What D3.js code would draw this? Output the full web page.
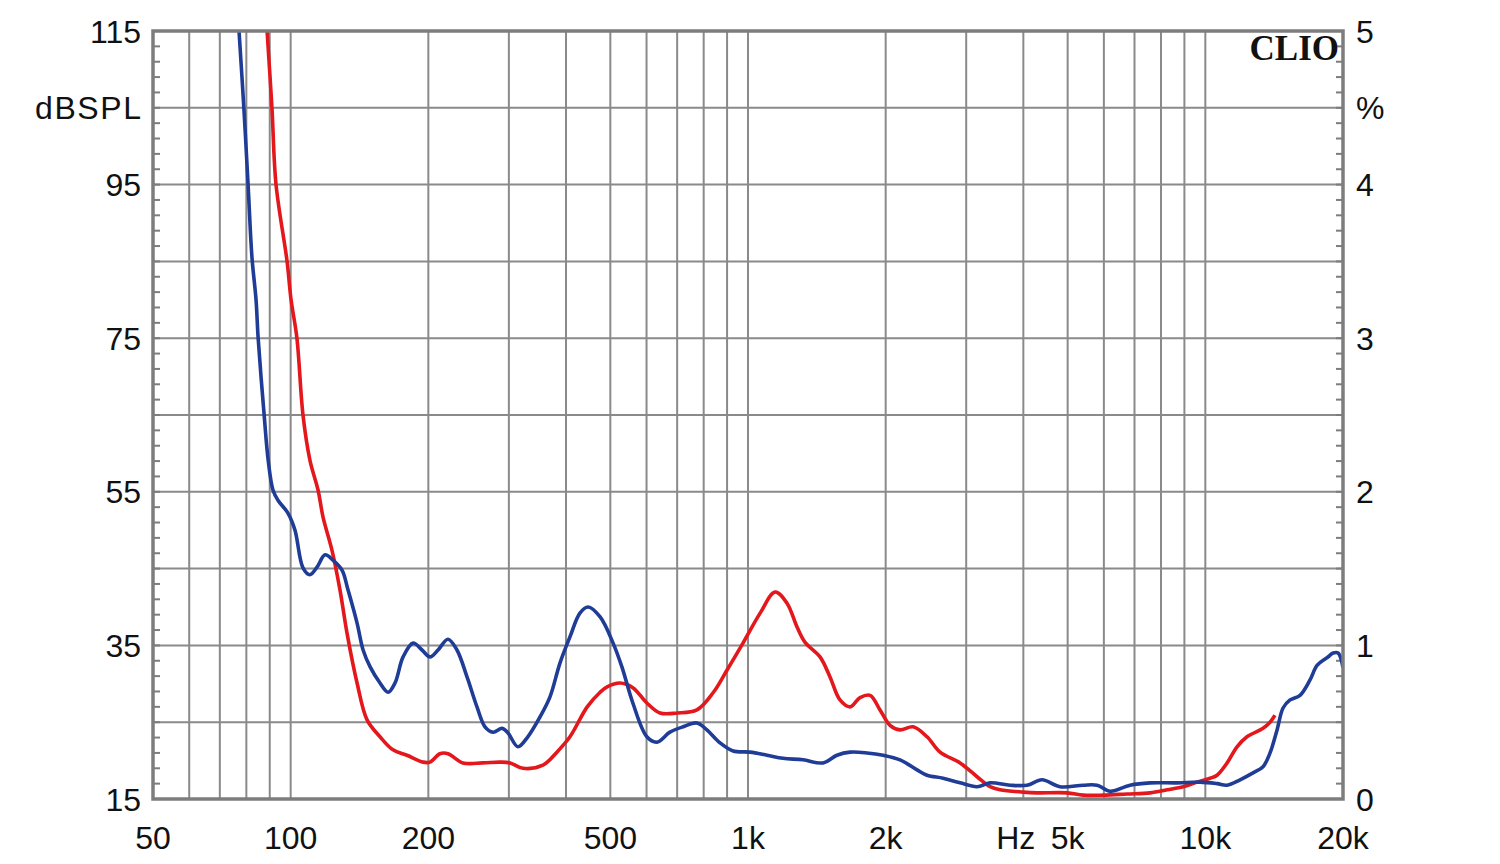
<!DOCTYPE html>
<html><head><meta charset="utf-8">
<script src="https://cdn.jsdelivr.net/npm/d3@7"></script>
<style>body{margin:0;background:#fff}svg{display:block}</style>
</head><body>
<svg id="c" width="1500" height="864"></svg>
<script>
// ---- data ----
const blueFreq = [77.1,79.0,80.7,82.3,84.0,84.9,87.5,89.3,91.5,93.8,98.7,102.2,106.4,110.2,114.2,118.9,123.7,129.5,133.5,139.7,144.0,149.2,156.8,163.3,169.1,176.1,185.2,193.7,201.7,210,220.8,231,243,255.5,266,277,290,298.7,314,330,351,369,388,408,429,447,475,507,530,560,601,632,675,721,773,813,869,928,1010,1101,1193,1319,1459,1565,1672,1821,1974,2150,2342,2463,2670,2909,3169,3383,3741,4075,4395,4810,5404,5798,6190,6846,7571,8673,9738,10610,11160,11910,12715,13370,13850,14350,14790,15320,16110,16940,17550,18460,19030,19510,20000];
const blueDb = [115,105,95,85.5,80.0,75,65,59.1,55.2,53.9,52.2,50.0,45.1,44.2,45.2,46.8,46.1,44.8,42.2,37.9,34.4,32.2,30.1,28.9,30.1,33.5,35.3,34.4,33.5,34.4,35.8,34.4,30.9,27.0,24.4,23.7,24.2,23.6,21.8,23.1,25.7,28.3,32.7,36.1,39.2,40.0,38.7,35.3,32.2,27.5,23.1,22.4,23.7,24.4,24.9,24.0,22.3,21.25,21.1,20.7,20.3,20.1,19.7,20.7,21.1,21.0,20.7,20.1,18.8,18.1,17.7,17.1,16.6,17.1,16.8,16.8,17.5,16.6,16.8,16.8,16.0,16.8,17.1,17.1,17.2,17.0,16.8,17.5,18.4,19.2,21.0,24.0,26.85,27.9,28.5,30.5,32.4,33.4,34.0,34.0,32.1];
const redFreq = [88.8,91.0,92.9,98.2,100.2,103.2,106.4,110.2,114.8,117.7,123.1,128.2,132.8,139.7,146.9,156.8,167.4,179.6,194.7,201.7,212,220.8,238,263,287,302,322,356,382,408,445,475,492,525,560,601,642,700,773,838,900,975,1063,1146,1217,1280,1333,1437,1511,1589,1672,1758,1849,1944,2044,2150,2296,2463,2630,2909,3169,3383,3558,3994,4286,4985,5404,5977,6744,7571,8250,8942,9588,10240,10610,11160,11730,12335,13370,13850,14200];
const redDb = [115,105,95,85,80.0,75,65,59.1,55.2,51.7,47.4,42.2,36.6,30.1,25.3,23.1,21.4,20.7,19.8,19.8,20.9,20.9,19.7,19.7,19.8,19.7,19.0,19.4,21.1,23.1,27.0,28.9,29.6,30.1,29.5,27.5,26.2,26.2,26.6,28.8,31.8,35.3,39.2,41.95,40.5,37.4,35.4,33.5,30.9,27.9,27.0,28.2,28.5,26.6,24.6,24.0,24.4,23.1,21.1,19.7,17.9,16.6,16.2,15.9,15.8,15.8,15.5,15.5,15.65,15.8,16.2,16.6,17.2,17.7,18.1,19.7,21.8,23.1,24.2,25.0,25.9];

const xTickVals = [50,100,200,500,1000,2000,3850,5000,10000,20000];
const xTickLabels = ["50","100","200","500","1k","2k","Hz","5k","10k","20k"];
const xGrid = [60,70,80,90,100,200,300,400,500,600,700,800,900,1000,2000,3000,4000,5000,6000,7000,8000,9000,10000];
const yLeftTickVals = [15,35,55,75,95,105,115];
const yLeftTickLabels = ["15","35","55","75","95","dBSPL","115"];
const yRightTickVals = [0,1,2,3,4,4.5,5];
const yRightTickLabels = ["0","1","2","3","4","%","5"];

// ---- layout ----
const L=153, R=1343, T=31, B=799;
const svg = d3.select("#c");
const x = d3.scaleLog().domain([50,20000]).range([L,R]);
const y = d3.scaleLinear().domain([15,115]).range([B,T]);
const yR = d3.scaleLinear().domain([0,5]).range([B,T]);
const gridCol = "#8a8a8a", frameCol = "#7d7d7d";

// horizontal grid
svg.append("g").selectAll("line").data(d3.range(25,115,10)).join("line")
  .attr("x1",L).attr("x2",R).attr("y1",d=>y(d)).attr("y2",d=>y(d))
  .attr("stroke",gridCol).attr("stroke-width",2);
// vertical grid
svg.append("g").selectAll("line").data(xGrid).join("line")
  .attr("x1",d=>x(d)).attr("x2",d=>x(d)).attr("y1",T).attr("y2",B)
  .attr("stroke",gridCol).attr("stroke-width",2);
// minor ticks
const minor = d3.range(15,115.01,2);
svg.append("g").selectAll("line").data(minor).join("line")
  .attr("x1",L).attr("x2",L+7).attr("y1",d=>y(d)).attr("y2",d=>y(d))
  .attr("stroke",frameCol).attr("stroke-width",2);
svg.append("g").selectAll("line").data(minor).join("line")
  .attr("x1",R-7).attr("x2",R).attr("y1",d=>y(d)).attr("y2",d=>y(d))
  .attr("stroke",frameCol).attr("stroke-width",2);

// curves
svg.append("clipPath").attr("id","clip").append("rect")
  .attr("x",L).attr("y",T).attr("width",R-L).attr("height",B-T);
const gen = d3.line().x(d=>x(d[0])).y(d=>y(d[1])).curve(d3.curveCatmullRom.alpha(0.5));
const plot = svg.append("g").attr("clip-path","url(#clip)");
plot.append("path").datum(redFreq.map((f,i)=>[f,redDb[i]]))
  .attr("d",gen).attr("fill","none").attr("stroke","#e3171c").attr("stroke-width",3.6).attr("stroke-linejoin","round");
plot.append("path").datum(blueFreq.map((f,i)=>[f,blueDb[i]]))
  .attr("d",gen).attr("fill","none").attr("stroke","#1f3c96").attr("stroke-width",3.6).attr("stroke-linejoin","round");

// frame
svg.append("rect").attr("x",L).attr("y",T).attr("width",R-L).attr("height",B-T)
  .attr("fill","none").attr("stroke",frameCol).attr("stroke-width",3.5);

// labels
const font = "Liberation Sans, Arial, sans-serif";
svg.append("g").selectAll("text").data(yLeftTickVals).join("text")
  .attr("x",141).attr("y",d=>y(d)+11.5).attr("text-anchor","end")
  .attr("font-family",font).attr("font-size",32).attr("fill","#111")
  .attr("textLength",(d,i)=>yLeftTickLabels[i]==="dBSPL"?106:null)
  .text((d,i)=>yLeftTickLabels[i]);
svg.append("g").selectAll("text").data(yRightTickVals).join("text")
  .attr("x",1356).attr("y",d=>yR(d)+11.5).attr("text-anchor","start")
  .attr("font-family",font).attr("font-size",32).attr("fill","#111")
  .text((d,i)=>yRightTickLabels[i]);
svg.append("g").selectAll("text").data(xTickVals).join("text")
  .attr("x",d=>x(d)).attr("y",849).attr("text-anchor","middle")
  .attr("font-family",font).attr("font-size",32).attr("fill","#111")
  .text((d,i)=>xTickLabels[i]);

svg.append("text").attr("x",1339).attr("y",60).attr("text-anchor","end")
  .attr("font-family","Liberation Serif, Times New Roman, serif").attr("font-weight","bold")
  .attr("font-size",35).attr("fill","#111").text("CLIO");
</script>
</body></html>
